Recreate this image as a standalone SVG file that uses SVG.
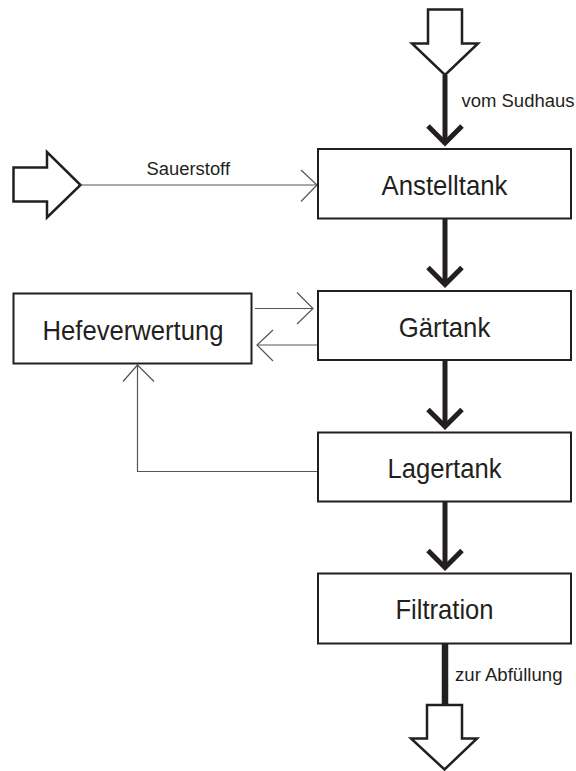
<svg xmlns="http://www.w3.org/2000/svg" width="576" height="771" viewBox="0 0 576 771">
<style>
.box{fill:#fff;stroke:#231f20;stroke-width:2}
.big{font-family:"Liberation Sans",Arial,sans-serif;font-size:27.5px;fill:#231f20;text-anchor:middle}
.lbl{font-family:"Liberation Sans",Arial,sans-serif;font-size:17.5px;fill:#231f20}
.thick{fill:none;stroke:#231f20;stroke-width:5}
.thin{fill:none;stroke:#555;stroke-width:1.2}
.block{fill:#fff;stroke:#231f20;stroke-width:2.5;stroke-linejoin:miter}
</style>
<rect width="576" height="771" fill="#fff"/>
<g id="connectors">
  <polygon class="block" points="428,9.5 462,9.5 462,43.5 478,43.5 445,75 412,43.5 428,43.5"/>
  <line class="thick" x1="445" y1="75" x2="445" y2="142"/>
  <polyline class="thick" points="428,126 445,143 462,126"/>
  <line class="thick" x1="445" y1="219" x2="445" y2="284"/>
  <polyline class="thick" points="428,267.5 445,284.5 462,267.5"/>
  <line class="thick" x1="445" y1="360" x2="445" y2="426"/>
  <polyline class="thick" points="428,409.5 445,426.5 462,409.5"/>
  <line class="thick" x1="445" y1="502" x2="445" y2="567"/>
  <polyline class="thick" points="428,550.5 445,567.5 462,550.5"/>
  <line x1="445" y1="644" x2="445" y2="705" stroke="#231f20" stroke-width="6.5"/>
  <polygon class="block" points="427,705 462,705 462,738.5 477,738.5 444.5,769.5 411,738.5 427,738.5"/>
  <polygon class="block" points="13.5,167.5 47,167.5 47,152 80.5,185 47,217.5 47,201.5 13.5,201.5"/>
  <line class="thin" x1="80.5" y1="185" x2="317" y2="185"/>
  <polyline class="thin" points="301,170 317,185 301,201.5"/>
  <line class="thin" x1="255" y1="308.5" x2="313" y2="308.5"/>
  <polyline class="thin" points="297,292.5 313,308.5 297,324"/>
  <line class="thin" x1="257" y1="345" x2="318" y2="345"/>
  <polyline class="thin" points="273,330 257,345 273,361"/>
  <polyline class="thin" points="318,471.5 137.5,471.5 137.5,365"/>
  <polyline class="thin" points="123,381.5 137.5,365 154,381.5"/>
  <text class="lbl" x="461.5" y="106.5" textLength="113" lengthAdjust="spacingAndGlyphs">vom Sudhaus</text>
  <text class="lbl" x="146.5" y="175" textLength="83.5" lengthAdjust="spacingAndGlyphs">Sauerstoff</text>
  <text class="lbl" x="455" y="681" textLength="107.5" lengthAdjust="spacingAndGlyphs">zur Abfüllung</text>
</g>
<g id="anstelltank">
  <rect class="box" x="318" y="149" width="253" height="69.5"/>
  <text class="big" x="444.5" y="195" textLength="126" lengthAdjust="spacingAndGlyphs">Anstelltank</text>
</g>
<g id="gaertank">
  <rect class="box" x="318" y="291" width="253" height="69"/>
  <text class="big" x="444.5" y="336.5" textLength="91.5" lengthAdjust="spacingAndGlyphs">Gärtank</text>
</g>
<g id="hefeverwertung">
  <rect class="box" x="13.5" y="293.5" width="238" height="70"/>
  <text class="big" x="133" y="340" textLength="181" lengthAdjust="spacingAndGlyphs">Hefeverwertung</text>
</g>
<g id="lagertank">
  <rect class="box" x="318" y="432.5" width="253" height="69"/>
  <text class="big" x="444.5" y="478" textLength="114" lengthAdjust="spacingAndGlyphs">Lagertank</text>
</g>
<g id="filtration">
  <rect class="box" x="318" y="573.5" width="253" height="70"/>
  <text class="big" x="444.5" y="618.5" textLength="98" lengthAdjust="spacingAndGlyphs">Filtration</text>
</g>
</svg>
